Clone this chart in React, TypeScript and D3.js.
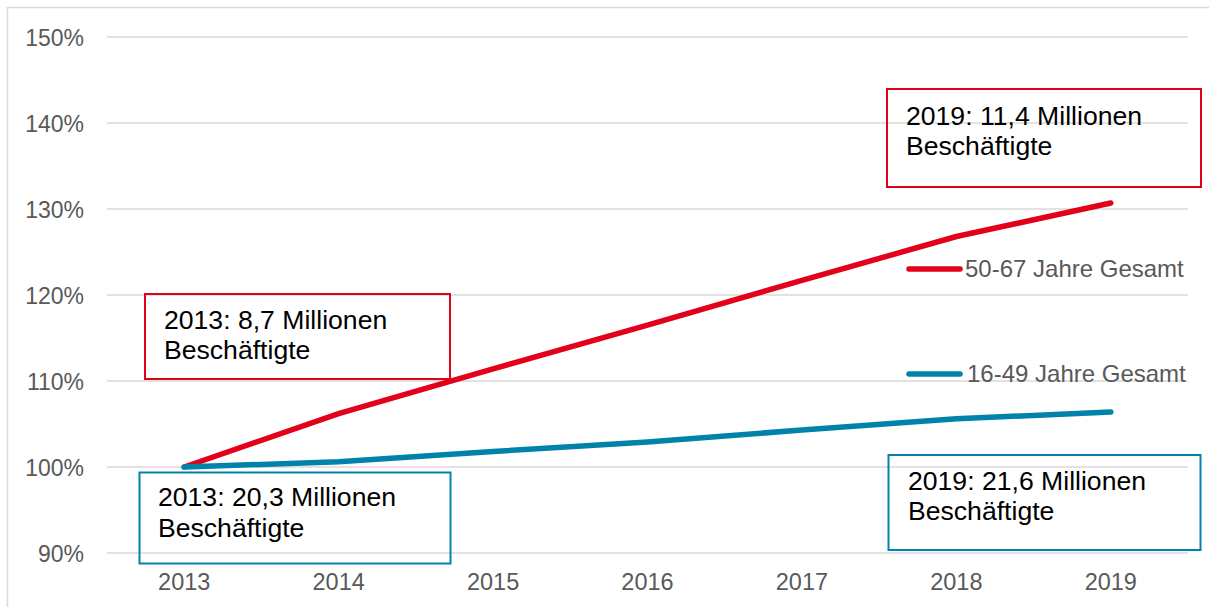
import React from "react";
import * as d3 from "d3";

const years = ["2013", "2014", "2015", "2016", "2017", "2018", "2019"];
const older = [100, 106.2, 111.4, 116.5, 121.7, 126.8, 130.7];
const younger = [100, 100.6, 101.8, 102.9, 104.3, 105.6, 106.4];
const yTicks = [90, 100, 110, 120, 130, 140, 150];
const seriesNames = ["50-67 Jahre Gesamt", "16-49 Jahre Gesamt"];
const noteTexts = [
  ["2019: 11,4 Millionen", "Beschäftigte"],
  ["2013: 8,7 Millionen", "Beschäftigte"],
  ["2013: 20,3 Millionen", "Beschäftigte"],
  ["2019: 21,6 Millionen", "Beschäftigte"],
];

const W = 1209;
const H = 607;
const RED = "#e2001a";
const BLUE = "#0082ab";
const GRID = "#d9d9d9";
const GREY = "#595959";
const FONT = "'Liberation Sans', Arial, Helvetica, sans-serif";

const plot = { left: 107, right: 1188, top: 37, bottom: 553 };

// annotation layout: box [x, y, w, h], text x, baselines
const noteLayout = [
  { color: RED, box: [887, 89, 314, 98], tx: 906, ty: [125, 155] },
  { color: RED, box: [145, 294, 305, 85], tx: 164, ty: [329, 359] },
  { color: BLUE, box: [139.5, 472.5, 311, 91], tx: 158, ty: [506, 537] },
  { color: BLUE, box: [888.5, 455, 312, 95], tx: 908, ty: [490, 520] },
];

const legendLayout = [
  { color: RED, x1: 909, x2: 960, y: 269, tx: 965, ty: 277 },
  { color: BLUE, x1: 909, x2: 960, y: 374, tx: 967, ty: 382 },
];

export default function App() {
  const x = d3
    .scaleBand<string>()
    .domain(years)
    .range([plot.left, plot.right])
    .padding(0);
  const cx = (d: string) => (x(d) ?? 0) + x.bandwidth() / 2;
  const y = d3.scaleLinear().domain([90, 150]).range([plot.bottom, plot.top]);

  const line = d3
    .line<number>()
    .x((_, i) => cx(years[i]))
    .y((v) => y(v));

  const series = [
    { values: older, color: RED },
    { values: younger, color: BLUE },
  ];

  return (
    <svg
      width={W}
      height={H}
      style={{ position: "absolute", left: 0, top: 0, background: "#fff" }}
      fontFamily={FONT}
    >
      <rect x={0} y={0} width={W} height={H} fill="#fff" />
      <rect x={7.5} y={7.5} width={W + 20} height={H + 20} fill="none" stroke={GRID} strokeWidth={1.5} />

      {/* grid lines */}
      {yTicks.map((t) => (
        <line
          key={t}
          x1={plot.left}
          x2={plot.right}
          y1={y(t)}
          y2={y(t)}
          stroke={GRID}
          strokeWidth={1.5}
        />
      ))}

      {/* y tick labels */}
      {yTicks.map((t) => (
        <text
          key={"l" + t}
          x={84}
          y={y(t) + 8.5}
          textAnchor="end"
          fontSize={23}
          fill={GREY}
        >
          {t + "%"}
        </text>
      ))}

      {/* x tick labels */}
      {years.map((yr) => (
        <text
          key={yr}
          x={cx(yr)}
          y={590}
          textAnchor="middle"
          fontSize={23.5}
          fill={GREY}
        >
          {yr}
        </text>
      ))}

      {/* annotation boxes */}
      {noteLayout.map((n, i) => (
        <g key={"n" + i}>
          <rect
            x={n.box[0]}
            y={n.box[1]}
            width={n.box[2]}
            height={n.box[3]}
            fill="none"
            stroke={n.color}
            strokeWidth={2}
          />
          {noteTexts[i].map((t, j) => (
            <text key={j} x={n.tx} y={n.ty[j]} fontSize={26.6} fill="#000">
              {t}
            </text>
          ))}
        </g>
      ))}

      {/* series lines */}
      {series.map((s, i) => (
        <path
          key={"s" + i}
          d={line(s.values) ?? ""}
          fill="none"
          stroke={s.color}
          strokeWidth={5.5}
          strokeLinecap="round"
          strokeLinejoin="round"
        />
      ))}

      {/* legend */}
      {legendLayout.map((l, i) => (
        <g key={"lg" + i}>
          <line
            x1={l.x1}
            x2={l.x2}
            y1={l.y}
            y2={l.y}
            stroke={l.color}
            strokeWidth={5.5}
            strokeLinecap="round"
          />
          <text x={l.tx} y={l.ty} fontSize={24} fill={GREY}>
            {seriesNames[i]}
          </text>
        </g>
      ))}
    </svg>
  );
}
